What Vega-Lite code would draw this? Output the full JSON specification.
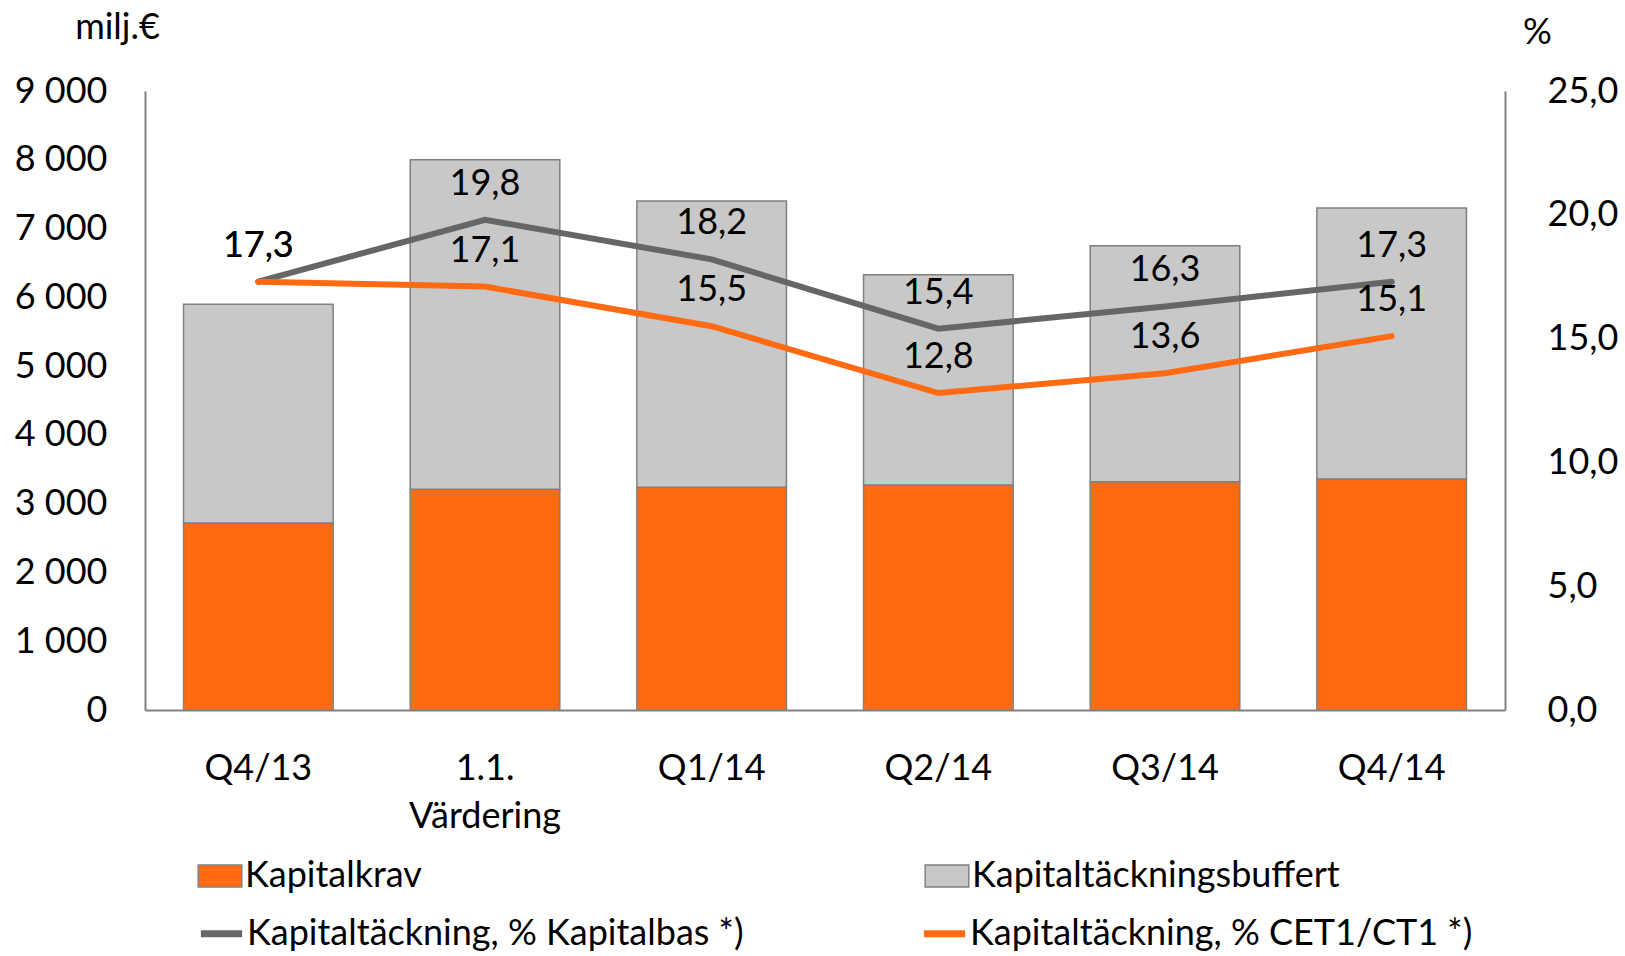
{
  "$schema": "https://vega.github.io/schema/vega-lite/v6.json",
  "width": 1360,
  "height": 619,
  "autosize": {"type": "none"},
  "padding": {"left": 145, "top": 91, "right": 120, "bottom": 246},
  "background": "white",
  "config": {
    "locale": {"number": {"decimal": ",", "thousands": " ", "grouping": [3], "currency": ["", "€"]}},
    "font": "Lato",
    "view": {"stroke": null},
    "axis": {"labelFont": "Lato", "titleFont": "Lato", "labelColor": "black", "titleColor": "black", "labelFontSize": 36, "titleFontSize": 36, "titleFontWeight": "normal", "grid": false, "ticks": false, "domainColor": "#808080", "domainWidth": 2},
    "legend": {"labelFont": "Lato", "labelFontSize": 36, "labelColor": "black", "labelLimit": 900, "padding": 0, "title": null, "direction": "horizontal", "columns": 2, "orient": "none", "symbolOpacity": 1}
  },
  "datasets": {
    "bars": [
      {"period": "Q4/13", "series": "Kapitalkrav", "value": 2720},
      {"period": "Q4/13", "series": "Kapitaltäckningsbuffert", "value": 3180},
      {"period": "1.1. Värdering", "series": "Kapitalkrav", "value": 3210},
      {"period": "1.1. Värdering", "series": "Kapitaltäckningsbuffert", "value": 4790},
      {"period": "Q1/14", "series": "Kapitalkrav", "value": 3240},
      {"period": "Q1/14", "series": "Kapitaltäckningsbuffert", "value": 4160},
      {"period": "Q2/14", "series": "Kapitalkrav", "value": 3270},
      {"period": "Q2/14", "series": "Kapitaltäckningsbuffert", "value": 3060},
      {"period": "Q3/14", "series": "Kapitalkrav", "value": 3320},
      {"period": "Q3/14", "series": "Kapitaltäckningsbuffert", "value": 3430},
      {"period": "Q4/14", "series": "Kapitalkrav", "value": 3360},
      {"period": "Q4/14", "series": "Kapitaltäckningsbuffert", "value": 3940}
    ],
    "lines": [
      {"period": "Q4/13", "series": "Kapitaltäckning, % Kapitalbas *)", "pct": 17.3},
      {"period": "1.1. Värdering", "series": "Kapitaltäckning, % Kapitalbas *)", "pct": 19.8},
      {"period": "Q1/14", "series": "Kapitaltäckning, % Kapitalbas *)", "pct": 18.2},
      {"period": "Q2/14", "series": "Kapitaltäckning, % Kapitalbas *)", "pct": 15.4},
      {"period": "Q3/14", "series": "Kapitaltäckning, % Kapitalbas *)", "pct": 16.3},
      {"period": "Q4/14", "series": "Kapitaltäckning, % Kapitalbas *)", "pct": 17.3},
      {"period": "Q4/13", "series": "Kapitaltäckning, %  CET1/CT1 *)", "pct": 17.3},
      {"period": "1.1. Värdering", "series": "Kapitaltäckning, %  CET1/CT1 *)", "pct": 17.1},
      {"period": "Q1/14", "series": "Kapitaltäckning, %  CET1/CT1 *)", "pct": 15.5},
      {"period": "Q2/14", "series": "Kapitaltäckning, %  CET1/CT1 *)", "pct": 12.8},
      {"period": "Q3/14", "series": "Kapitaltäckning, %  CET1/CT1 *)", "pct": 13.6},
      {"period": "Q4/14", "series": "Kapitaltäckning, %  CET1/CT1 *)", "pct": 15.1}
    ]
  },
  "layer": [
    {
      "data": {"name": "bars"},
      "mark": {"type": "bar", "stroke": "#808080", "strokeWidth": 1.5},
      "encoding": {
        "x": {
          "field": "period", "type": "nominal",
          "sort": ["Q4/13", "1.1. Värdering", "Q1/14", "Q2/14", "Q3/14", "Q4/14"],
          "scale": {"paddingInner": 0.34, "paddingOuter": 0.17},
          "axis": {"title": null, "labelAngle": 0, "labelPadding": 41, "labelLineHeight": 48,
                   "labelExpr": "datum.value == '1.1. Värdering' ? ['1.1.', 'Värdering'] : datum.value"}
        },
        "y": {
          "field": "value", "type": "quantitative", "stack": "zero",
          "scale": {"domain": [0, 9000]},
          "axis": {"title": "milj.€", "titleAngle": 0, "titleX": -28, "titleY": -64, "titleAlign": "center", "titleBaseline": "middle",
                   "format": ",.0f", "labelPadding": 38, "values": [0, 1000, 2000, 3000, 4000, 5000, 6000, 7000, 8000, 9000]}
        },
        "fill": {
          "field": "series", "type": "nominal",
          "scale": {"domain": ["Kapitalkrav", "Kapitaltäckningsbuffert"], "range": ["#FF6A13", "#C8C8C8"]},
          "legend": {
            "legendX": 52, "legendY": 762, "columnPadding": 500, "labelOffset": 2, "symbolSize": 1900,
            "symbolType": "M-1,-0.5H1V0.5H-1Z", "symbolStrokeColor": "#808080", "symbolStrokeWidth": 1.5
          }
        },
        "order": {"field": "series", "sort": "ascending"}
      }
    },
    {
      "data": {"name": "lines"},
      "encoding": {
        "x": {"field": "period", "type": "nominal", "sort": ["Q4/13", "1.1. Värdering", "Q1/14", "Q2/14", "Q3/14", "Q4/14"]},
        "y": {
          "field": "pct", "type": "quantitative",
          "scale": {"domain": [0, 25]},
          "axis": {"orient": "right", "title": "%", "titleAngle": 0, "titleX": 32, "titleY": -59, "titleAlign": "center", "titleBaseline": "middle",
                   "format": ".1f", "labelPadding": 42, "values": [0, 5, 10, 15, 20, 25]}
        }
      },
      "layer": [
        {
          "mark": {"type": "line", "strokeWidth": 6, "strokeCap": "round"},
          "encoding": {
            "stroke": {
              "field": "series", "type": "nominal",
              "scale": {"domain": ["Kapitaltäckning, % Kapitalbas *)", "Kapitaltäckning, %  CET1/CT1 *)"], "range": ["#666666", "#FF6A13"]},
              "legend": {
                "legendX": 52, "legendY": 818, "columnPadding": 165, "labelOffset": 1, "symbolSize": 1700,
                "symbolType": "stroke", "symbolStrokeWidth": 7
              }
            }
          }
        },
        {
          "mark": {"type": "text", "dy": -36, "fontSize": 36, "font": "Lato", "color": "black"},
          "encoding": {"text": {"field": "pct", "type": "quantitative", "format": ".1f"}}
        }
      ]
    }
  ],
  "resolve": {"scale": {"y": "independent"}}
}
